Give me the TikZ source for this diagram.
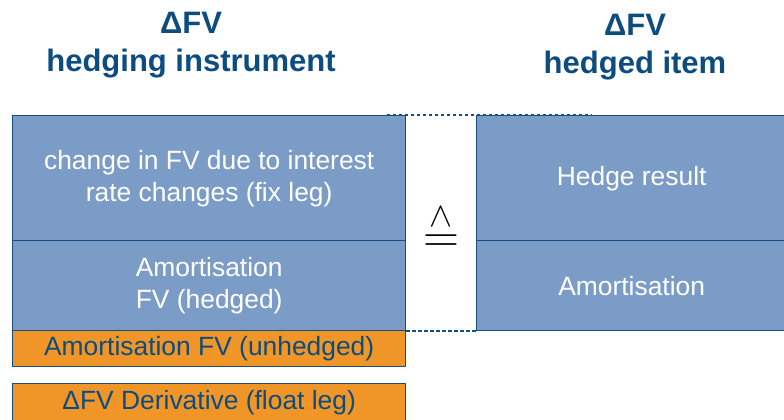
\documentclass[tikz,border=0pt]{standalone}
\usepackage{fontspec}
\setmainfont{Liberation Sans}
\usepackage{tikz}
\usetikzlibrary{positioning}
\definecolor{hdgblue}{RGB}{124,156,200}
\definecolor{hdgline}{RGB}{22,78,128}
\definecolor{hdgorange}{RGB}{240,150,40}
\definecolor{hdgnavy}{RGB}{12,76,126}

\begin{document}
\begin{tikzpicture}[
  x=0.5pt, y=-0.5pt,
  font=\fontsize{13.2}{16}\selectfont,
  cell/.style={draw=hdgline, line width=0.7pt, fill=hdgblue, text=white,
               inner sep=0pt, align=center, anchor=north west},
  lcell/.style={cell, minimum width=196.5pt},
  rcell/.style={cell, minimum width=155pt},
  ocell/.style={lcell, fill=hdgorange, text=hdgnavy},
  ttl/.style={font=\fontsize{15.5}{18}\selectfont\bfseries, text=hdgnavy, anchor=base},
  gap/.style={draw=hdgline, line width=1pt, dash pattern=on 1.7pt off 1.3pt},
]
\useasboundingbox (0,0) rectangle (784,419);

% ===================== titles =====================
\node[ttl] (ttlL)  at (191,33) {ΔFV};
\node[ttl] (subL)  at (191,71) {hedging instrument};
\node[ttl] (ttlR)  at (635,35) {ΔFV};
\node[ttl] (subR)  at (635,73) {hedged item};

% ===================== LEFT: hedging instrument =====================
\node[lcell, minimum height=62.5pt] (fixleg) at (12,115)
  {change in FV due to interest\\rate changes (fix leg)};
\node[lcell, minimum height=45pt] (amortL) at (12,240)
  {Amortisation\\FV (hedged)};
\node[ocell, minimum height=18pt] (unhedged) at (12,330)
  {Amortisation FV (unhedged)};
\node[ocell, minimum height=18.5pt] (deriv) at (12,383)
  {ΔFV Derivative (float leg)};

% ===================== RIGHT: hedged item =====================
\node[rcell, minimum height=62.5pt] (result) at (476,115) {Hedge result};
\node[rcell, minimum height=45pt]   (amortR) at (476,240) {Amortisation};

% correspondence
\node[inner sep=0pt, font=\fontsize{23}{23}\selectfont] (corr) at (441,229)
  {$\stackrel{\raisebox{2.5pt}{$\scriptstyle\wedge$}}{=}$};

% dashed frame of the gap
\coordinate (gapTL) at (387,115);
\coordinate (gapTR) at (592,115);
\draw[gap] (gapTL) -- (gapTR);
\draw[gap] (amortL.south east) -- (amortR.south west);

\end{tikzpicture}
\end{document}
